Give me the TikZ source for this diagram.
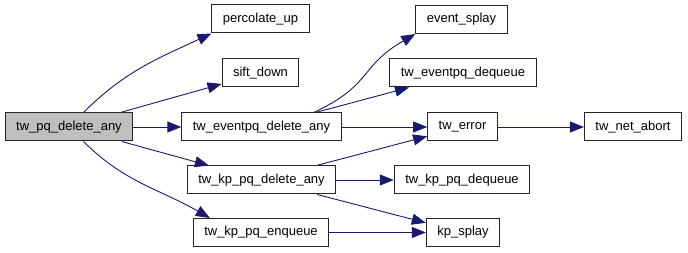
\documentclass[tikz,border=0pt]{standalone}
\usepackage{fontspec}
\setmainfont{Liberation Sans}
\usetikzlibrary{arrows.meta}
\definecolor{edgeblue}{HTML}{191970}
\definecolor{rootgray}{HTML}{BFBFBF}

\begin{document}
\begin{tikzpicture}
[
	fn/.style={draw=black!85,line width=1pt,minimum height=28pt,inner xsep=11pt,inner ysep=0pt,font=\fontsize{13}{15}\selectfont},
	rootfn/.style={fn,fill=rootgray},
	call/.style={draw=edgeblue,line width=0.9pt,-{Triangle[length=14pt,width=11pt]}},
	x=1pt,
	y=1pt
]
	\useasboundingbox (0,0) rectangle (688,-253);

	% caller
	\node[rootfn] (pqdel) at (69,-127) {tw\_pq\_delete\_any};

	% direct callees
	\node[fn] (percup) at (260.5,-19) {percolate\_up};
	\node[fn] (siftdown) at (260.5,-73) {sift\_down};
	\node[fn] (evdel) at (261.5,-127) {tw\_eventpq\_delete\_any};
	\node[fn] (kpdel) at (261.5,-180) {tw\_kp\_pq\_delete\_any};
	\node[fn] (kpenq) at (261,-232.5) {tw\_kp\_pq\_enqueue};

	% second level
	\node[fn] (evsplay) at (461.5,-19.5) {event\_splay};
	\node[fn] (evdeq) at (463,-73) {tw\_eventpq\_dequeue};
	\node[fn] (twerr) at (462.5,-127) {tw\_error};
	\node[fn] (kpdeq) at (462,-180) {tw\_kp\_pq\_dequeue};
	\node[fn] (kpsplay) at (463,-232.5) {kp\_splay};

	% third level
	\node[fn] (netabort) at (633,-127) {tw\_net\_abort};

	% calls from tw_pq_delete_any
	\draw[call] (pqdel) to[out=45,in=205] (percup.south west);
	\draw[call] (pqdel) -- (siftdown);
	\draw[call] (pqdel) -- (evdel);
	\draw[call] (pqdel) -- (kpdel);
	\draw[call] (pqdel) to[out=-45,in=150] ([xshift=17pt]kpenq.north west);

	% calls further down
	\draw[call] ([xshift=-28pt]evdel.north east) to[out=25,in=210,looseness=1.3] (evsplay.south west);
	\draw[call] (evdel) -- (evdeq);
	\draw[call] (evdel) -- (twerr);
	\draw[call] (kpdel) -- (twerr);
	\draw[call] (kpdel) -- (kpdeq);
	\draw[call] (kpdel) -- (kpsplay);
	\draw[call] (kpenq) -- (kpsplay);
	\draw[call] (twerr) -- (netabort);

\end{tikzpicture}
\end{document}
